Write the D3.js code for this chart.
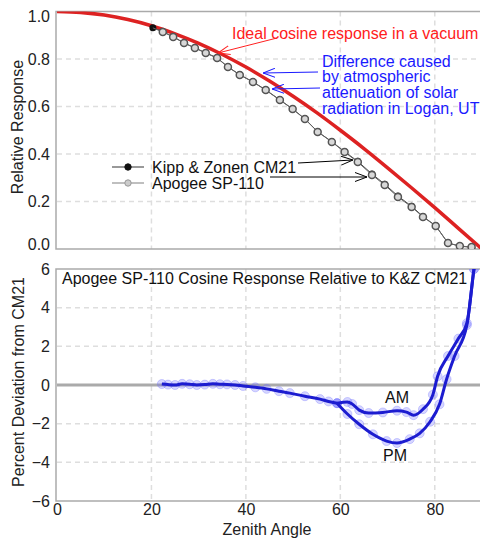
<!DOCTYPE html>
<html>
<head>
<meta charset="utf-8">
<script src="https://cdn.jsdelivr.net/npm/d3@7"></script>
<style>
body { margin: 0; background: #fff; }
text { font-family: "Liberation Sans", Arial, sans-serif; }
</style>
</head>
<body>
<div id="chart"></div>
<script>
// data
const angleTicks = [0, 20, 40, 60, 80];
const respTicks = [0, 0.2, 0.4, 0.6, 0.8, 1.0];
const devTicks = [-6, -4, -2, 0, 2, 4, 6];

// ideal cosine response (red)
const idealAngles = [0, 5, 10, 15, 20, 25, 30, 35, 40, 45, 50, 55, 60, 65, 70, 75, 80, 85, 90];
const idealResp = [1.0, 0.996, 0.985, 0.966, 0.940, 0.906, 0.866, 0.819, 0.766, 0.707, 0.643, 0.574, 0.500, 0.423, 0.342, 0.259, 0.174, 0.087, 0.0];

// measured relative response
const measAngles = [20.3, 22.4, 24.6, 26.9, 29.2, 31.5, 33.9, 36.2, 38.7, 41.5, 44.2, 47.2, 49.9, 52.5, 55.2, 58.2, 60.9, 63.7, 66.7, 69.4, 72.2, 75.1, 77.5, 80.2, 82.8, 85.3, 87.8];
const kippResp = [0.932, 0.915, 0.894, 0.868, 0.847, 0.826, 0.805, 0.767, 0.734, 0.704, 0.670, 0.628, 0.590, 0.548, 0.494, 0.452, 0.410, 0.369, 0.316, 0.273, 0.223, 0.180, 0.137, 0.098, 0.025, 0.012, 0.007];
const apogeeResp = [0.931, 0.914, 0.893, 0.867, 0.846, 0.825, 0.804, 0.766, 0.733, 0.703, 0.669, 0.627, 0.589, 0.547, 0.493, 0.451, 0.408, 0.366, 0.312, 0.269, 0.219, 0.177, 0.135, 0.097, 0.025, 0.013, 0.008];

// percent deviation, common part then AM / PM branches
const sharedAngles = [22.2, 23.5, 25, 26.5, 28.1, 29.6, 31.3, 33, 34.5, 36, 37.7, 39.4, 42, 44.4, 47, 49.3, 52.5, 55.7, 57.5, 59.3];
const sharedDev = [0.05, 0.02, 0.0, 0.06, 0.04, 0.0, 0.02, 0.06, 0.04, 0.03, 0.0, -0.05, -0.12, -0.2, -0.32, -0.42, -0.58, -0.73, -0.85, -0.94];
const amAngles = [59.3, 61.5, 62.5, 64, 66, 69, 72, 74, 75.5, 77.5, 79.6, 80.6, 82.8, 85, 86.8, 88.3, 89.2];
const amDev = [-0.94, -0.88, -0.98, -1.3, -1.45, -1.42, -1.33, -1.4, -1.56, -1.25, -0.5, 0.45, 1.5, 2.4, 3.2, 6.0, 7.5];
const pmAngles = [59.3, 61.5, 64, 66.9, 69.8, 72, 74.7, 76.8, 79, 81, 82.5, 84.2, 86.8, 88.3, 89.2];
const pmDev = [-0.94, -1.5, -2.03, -2.55, -2.9, -3.0, -2.8, -2.5, -1.9, -1.0, 0.3, 1.5, 3.1, 6.0, 7.5];

const W = 480, H = 538;
const FS = 16;
const svg = d3.select("#chart").append("svg")
	.attr("width", W)
	.attr("height", H);

const xScale = d3.scaleLinear().domain([0, 90]).range([57, 482]);
const yTop = d3.scaleLinear().domain([0, 1]).range([249, 11.5]);
const yBot = d3.scaleLinear().domain([-6, 6]).range([501, 269]);

const zip = (a, b) => a.map((v, i) => [v, b[i]]);

// arrow heads
const defs = svg.append("defs");
function arrowMarker(id, color){
	defs.append("marker")
		.attr("id", id)
		.attr("viewBox", "0 0 12 10")
		.attr("refX", 12).attr("refY", 5)
		.attr("markerWidth", 12).attr("markerHeight", 10)
		.attr("markerUnits", "userSpaceOnUse")
		.attr("orient", "auto")
		.append("path")
		.attr("d", "M0,0.5 L12,5 L0,9.5")
		.attr("fill", "none")
		.attr("stroke", color)
		.attr("stroke-width", 1);
}
arrowMarker("arBlack", "#000");
arrowMarker("arBlue", "#1a1aff");
arrowMarker("arRed", "#ff2020");

function panel(y, id){
	const [y0, y1] = y.range();
	defs.append("clipPath").attr("id", id)
		.append("rect")
		.attr("x", 57).attr("y", y1)
		.attr("width", 425).attr("height", y0 - y1);

	const g = svg.append("g");
	// grid
	g.selectAll(".vgrid").data(angleTicks.slice(1)).join("line")
		.attr("x1", d => xScale(d)).attr("x2", d => xScale(d))
		.attr("y1", y1).attr("y2", y0)
		.attr("stroke", "#dedede").attr("stroke-width", 1.5)
		.attr("stroke-dasharray", "5,4");
	g.selectAll(".hgrid").data(y.ticks(6).slice(1, -1)).join("line")
		.attr("x1", 57).attr("x2", 482)
		.attr("y1", d => y(d)).attr("y2", d => y(d))
		.attr("stroke", "#dedede").attr("stroke-width", 1.5)
		.attr("stroke-dasharray", "5,4");
	// frame
	g.append("rect")
		.attr("x", 56).attr("y", y1)
		.attr("width", 430).attr("height", y0 - y1)
		.attr("fill", "none").attr("stroke", "#aaa").attr("stroke-width", 1.5);
	return g;
}

function styleTicks(g){
	g.select(".domain").remove();
	g.selectAll("text").attr("font-size", FS).attr("fill", "#222")
		.attr("font-family", "Liberation Sans, Arial, sans-serif");
}

// ---- top panel ----
const gTop = panel(yTop, "clipTop");
const yAxisTop = d3.axisLeft(yTop).tickValues(respTicks).tickSize(0).tickPadding(6)
	.tickFormat(d3.format(".1f"));
svg.append("g").attr("transform", "translate(56,0)").call(yAxisTop)
	.call(styleTicks)
	.call(g => g.selectAll(".tick").filter(d => d === 1).select("text").attr("dy", "0.6em"))
	.call(g => g.selectAll(".tick").filter(d => d === 0).select("text").attr("dy", "0.05em"));

const plotTop = gTop.append("g").attr("clip-path", "url(#clipTop)");
const lineTop = d3.line().x(d => xScale(d[0])).y(d => yTop(d[1]));

plotTop.append("path")
	.datum(zip(idealAngles, idealResp))
	.attr("fill", "none").attr("stroke", "#dd2222").attr("stroke-width", 3.5)
	.attr("d", lineTop.curve(d3.curveMonotoneX));
lineTop.curve(d3.curveLinear);

plotTop.append("path")
	.datum(zip(measAngles, kippResp))
	.attr("fill", "none").attr("stroke", "#444").attr("stroke-width", 1)
	.attr("d", lineTop);
plotTop.selectAll(".kipp").data(zip(measAngles, kippResp)).join("circle")
	.attr("cx", d => xScale(d[0])).attr("cy", d => yTop(d[1]))
	.attr("r", 3.5).attr("fill", "#111");
plotTop.append("path")
	.datum(zip(measAngles, apogeeResp))
	.attr("fill", "none").attr("stroke", "#666").attr("stroke-width", 1)
	.attr("d", lineTop);
plotTop.selectAll(".apogee").data(zip(measAngles, apogeeResp).slice(1)).join("circle")
	.attr("cx", d => xScale(d[0])).attr("cy", d => yTop(d[1]))
	.attr("r", 3.5).attr("fill", "#d8d8d8").attr("stroke", "#555").attr("stroke-width", 1.5);

svg.append("text").attr("transform", "translate(23,127) rotate(-90)")
	.attr("text-anchor", "middle").attr("font-size", FS).attr("fill", "#222")
	.text("Relative Response");

// legend
const legend = svg.append("g");
[["Kipp & Zonen CM21", "#777", "#111", "#111", 167], ["Apogee SP-110", "#aaa", "#ccc", "#999", 183]]
	.forEach(([label, lineCol, fill, stroke, y]) => {
		legend.append("line").attr("x1", 112).attr("x2", 144).attr("y1", y).attr("y2", y)
			.attr("stroke", lineCol).attr("stroke-width", 1.5);
		legend.append("circle").attr("cx", 128).attr("cy", y).attr("r", 3.2)
			.attr("fill", fill).attr("stroke", stroke).attr("stroke-width", 1);
		legend.append("text").attr("x", 152).attr("y", y + 5.5)
			.attr("font-size", FS).attr("fill", "#111").text(label);
	});

// annotations
svg.append("line").attr("x1", 298).attr("y1", 163).attr("x2", 353).attr("y2", 160)
	.attr("stroke", "#000").attr("marker-end", "url(#arBlack)");
svg.append("line").attr("x1", 270).attr("y1", 177).attr("x2", 367).attr("y2", 177)
	.attr("stroke", "#000").attr("marker-end", "url(#arBlack)");

svg.append("text").attr("x", 232).attr("y", 38.5)
	.attr("font-size", FS).attr("fill", "#ff2020")
	.text("Ideal cosine response in a vacuum");
svg.append("line").attr("x1", 277).attr("y1", 38).attr("x2", 218).attr("y2", 53)
	.attr("stroke", "#ff2020").attr("marker-end", "url(#arRed)");

["Difference caused", "by atmospheric", "attenuation of solar", "radiation in Logan, UT"]
	.forEach((t, i) => {
		svg.append("text").attr("x", 322).attr("y", 66.5 + i * 15.7)
			.attr("font-size", FS).attr("fill", "#1a1aff").text(t);
	});
svg.append("line").attr("x1", 318).attr("y1", 72).attr("x2", 263).attr("y2", 73)
	.attr("stroke", "#1a1aff").attr("marker-end", "url(#arBlue)");
svg.append("line").attr("x1", 320).attr("y1", 88).attr("x2", 272).attr("y2", 89)
	.attr("stroke", "#1a1aff").attr("marker-end", "url(#arBlue)");

// ---- bottom panel ----
const gBot = panel(yBot, "clipBot");
const yAxisBot = d3.axisLeft(yBot).tickValues(devTicks).tickSize(0).tickPadding(6);
svg.append("g").attr("transform", "translate(56,0)").call(yAxisBot)
	.call(styleTicks);

const xAxis = d3.axisBottom(xScale).tickValues(angleTicks).tickSize(0).tickPadding(3);
svg.append("g").attr("transform", "translate(0,501)").call(xAxis)
	.call(styleTicks);

svg.append("text").attr("x", 267).attr("y", 535)
	.attr("text-anchor", "middle").attr("font-size", FS).attr("fill", "#222")
	.text("Zenith Angle");
svg.append("text").attr("transform", "translate(24,382) rotate(-90)")
	.attr("text-anchor", "middle").attr("font-size", FS).attr("fill", "#222")
	.text("Percent Deviation from CM21");

const plotBot = gBot.append("g").attr("clip-path", "url(#clipBot)");
plotBot.append("line")
	.attr("x1", 57).attr("x2", 482).attr("y1", yBot(0)).attr("y2", yBot(0))
	.attr("stroke", "#aaa").attr("stroke-width", 3);

const lineBot = d3.line().x(d => xScale(d[0])).y(d => yBot(d[1])).curve(d3.curveMonotoneX);
const devSeries = [zip(sharedAngles, sharedDev), zip(amAngles, amDev), zip(pmAngles, pmDev)];
devSeries.forEach(s => {
	plotBot.selectAll(null).data(s).join("circle")
		.attr("cx", d => xScale(d[0])).attr("cy", d => yBot(d[1]))
		.attr("r", 4.5).attr("fill", "#5a5aff").attr("fill-opacity", 0.25)
		.attr("stroke", "#7a7aff").attr("stroke-opacity", 0.35);
});
devSeries.forEach(s => {
	plotBot.append("path").datum(s)
		.attr("fill", "none").attr("stroke", "#1c1cd0").attr("stroke-width", 3)
		.attr("d", lineBot);
});

svg.append("text").attr("x", 62).attr("y", 284)
	.attr("font-size", FS).attr("fill", "#111")
	.text("Apogee SP-110 Cosine Response Relative to K&Z CM21");
svg.append("text").attr("x", 397).attr("y", 403).attr("text-anchor", "middle")
	.attr("font-size", FS).attr("fill", "#111").text("AM");
svg.append("text").attr("x", 395).attr("y", 461).attr("text-anchor", "middle")
	.attr("font-size", FS).attr("fill", "#111").text("PM");
</script>
</body>
</html>
